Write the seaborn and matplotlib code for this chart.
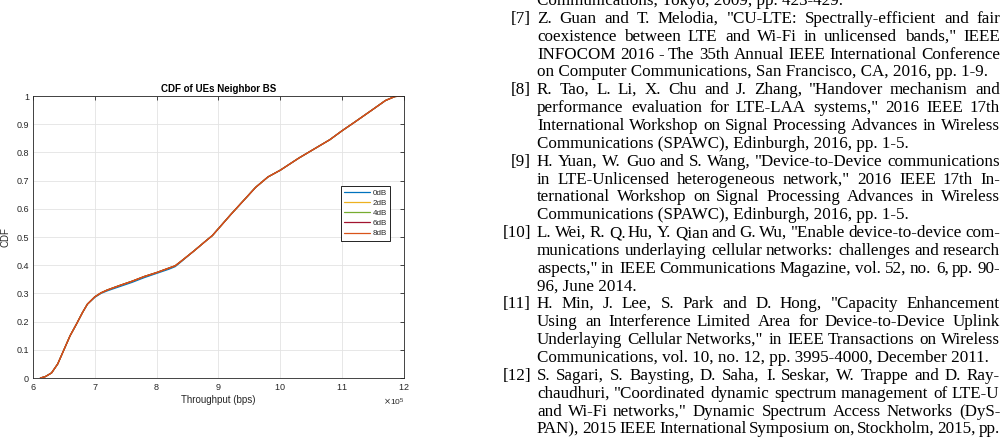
import matplotlib
matplotlib.use("Agg")
import matplotlib.pyplot as plt
import seaborn as sns
import pandas as pd

# ---------------- data ----------------
series_names = ["0dB", "2dB", "4dB", "6dB", "8dB"]
throughput_bps = [612000, 620000, 630000, 640000, 650000, 660000, 670000, 680000,
                  688000, 700000, 710000, 720000, 740000, 760000, 780000, 800000,
                  820000, 830000, 840000, 860000, 880000, 890000, 900000, 920000,
                  940000, 960000, 980000, 1000000, 1030000, 1050000, 1080000,
                  1100000, 1120000, 1150000, 1170000, 1185000, 1195000]
cdf_0dB = [0.0, 0.005, 0.018, 0.05, 0.10, 0.15, 0.19, 0.232, 0.262, 0.286, 0.300, 0.309,
           0.324, 0.339, 0.356, 0.371, 0.386, 0.395, 0.413, 0.45, 0.487, 0.505, 0.53, 0.58,
           0.628, 0.676, 0.713, 0.737, 0.78, 0.806, 0.845, 0.877, 0.907, 0.953, 0.984, 0.998, 1.0]
cdf_2dB = [0.0, 0.005, 0.018, 0.05, 0.10, 0.15, 0.19, 0.232, 0.262, 0.288, 0.302, 0.312,
           0.328, 0.343, 0.360, 0.374, 0.390, 0.398, 0.415, 0.45, 0.487, 0.505, 0.53, 0.58,
           0.628, 0.676, 0.713, 0.737, 0.78, 0.806, 0.845, 0.877, 0.907, 0.953, 0.984, 0.998, 1.0]
cdf_4dB = [0.0, 0.005, 0.018, 0.05, 0.10, 0.15, 0.19, 0.232, 0.262, 0.288, 0.302, 0.312,
           0.328, 0.343, 0.360, 0.374, 0.390, 0.398, 0.415, 0.45, 0.487, 0.505, 0.53, 0.58,
           0.628, 0.676, 0.713, 0.737, 0.78, 0.806, 0.845, 0.877, 0.907, 0.953, 0.984, 0.998, 1.0]
cdf_6dB = [0.0, 0.005, 0.018, 0.05, 0.10, 0.15, 0.19, 0.232, 0.262, 0.288, 0.302, 0.312,
           0.328, 0.343, 0.360, 0.374, 0.390, 0.398, 0.415, 0.45, 0.487, 0.505, 0.53, 0.58,
           0.628, 0.676, 0.713, 0.737, 0.78, 0.806, 0.845, 0.877, 0.907, 0.953, 0.984, 0.998, 1.0]
cdf_8dB = [0.0, 0.005, 0.018, 0.05, 0.10, 0.15, 0.19, 0.232, 0.262, 0.288, 0.302, 0.312,
           0.328, 0.343, 0.360, 0.374, 0.390, 0.398, 0.415, 0.45, 0.487, 0.505, 0.53, 0.58,
           0.628, 0.676, 0.713, 0.737, 0.78, 0.806, 0.845, 0.877, 0.907, 0.953, 0.984, 0.998, 1.0]
x_ticks = [6, 7, 8, 9, 10, 11, 12]
y_ticks = [0, 0.1, 0.2, 0.3, 0.4, 0.5, 0.6, 0.7, 0.8, 0.9, 1]
y_tick_labels = ["0", "0.1", "0.2", "0.3", "0.4", "0.5", "0.6", "0.7", "0.8", "0.9", "1"]
title_text = "CDF of UEs Neighbor BS"
x_label = "Throughput (bps)"
y_label = "CDF"

ref_top_line = "Communications, Tokyo, 2009, pp. 423-429."
ref_labels = ["[7]", "[8]", "[9]", "[10]", "[11]", "[12]"]
ref_lines = [
    ["Z. Guan and T. Melodia, \"CU-LTE: Spectrally-efficient and fair",
     "coexistence between LTE and Wi-Fi in unlicensed bands,\" IEEE",
     "INFOCOM 2016 - The 35th Annual IEEE International Conference",
     "on Computer Communications, San Francisco, CA, 2016, pp. 1-9."],
    ["R. Tao, L. Li, X. Chu and J. Zhang, \"Handover mechanism and",
     "performance evaluation for LTE-LAA systems,\" 2016 IEEE 17th",
     "International Workshop on Signal Processing Advances in Wireless",
     "Communications (SPAWC), Edinburgh, 2016, pp. 1-5."],
    ["H. Yuan, W. Guo and S. Wang, \"Device-to-Device communications",
     "in LTE-Unlicensed heterogeneous network,\" 2016 IEEE 17th In-",
     "ternational Workshop on Signal Processing Advances in Wireless",
     "Communications (SPAWC), Edinburgh, 2016, pp. 1-5."],
    ["L. Wei, R. Q. Hu, Y. Qian and G. Wu, \"Enable device-to-device com-",
     "munications underlaying cellular networks: challenges and research",
     "aspects,\" in IEEE Communications Magazine, vol. 52, no. 6, pp. 90-",
     "96, June 2014."],
    ["H. Min, J. Lee, S. Park and D. Hong, \"Capacity Enhancement",
     "Using an Interference Limited Area for Device-to-Device Uplink",
     "Underlaying Cellular Networks,\" in IEEE Transactions on Wireless",
     "Communications, vol. 10, no. 12, pp. 3995-4000, December 2011."],
    ["S. Sagari, S. Baysting, D. Saha, I. Seskar, W. Trappe and D. Ray-",
     "chaudhuri, \"Coordinated dynamic spectrum management of LTE-U",
     "and Wi-Fi networks,\" Dynamic Spectrum Access Networks (DyS-",
     "PAN), 2015 IEEE International Symposium on, Stockholm, 2015, pp."],
]
ref_last_line_flags = [True, True, True, True, True, False]

# ---------------- styles ----------------
palette = {"0dB": "#0072BD", "2dB": "#EDB120", "4dB": "#77AC30",
           "6dB": "#A2142F", "8dB": "#D95319"}

sns.set_theme(style="white")
plt.rcParams["font.family"] = ["Liberation Sans", "DejaVu Sans"]

W, H = 1007, 440
fig = plt.figure(figsize=(W / 100, H / 100), dpi=100)

ax_l, ax_r, ax_t, ax_b = 33, 404, 96, 378
ax = fig.add_axes([ax_l / W, 1 - ax_b / H, (ax_r - ax_l) / W, (ax_b - ax_t) / H])

df = pd.concat([
    pd.DataFrame({"Throughput": throughput_bps, "CDF": vals, "Series": name})
    for name, vals in zip(series_names, [cdf_0dB, cdf_2dB, cdf_4dB, cdf_6dB, cdf_8dB])
], ignore_index=True)

sns.lineplot(data=df, x="Throughput", y="CDF", hue="Series", hue_order=series_names,
             palette=palette, estimator=None, sort=False, linewidth=0.9, ax=ax)

dark = "#262626"
ax.set_xlim(600000, 1200000)
ax.set_ylim(0, 1)
ax.set_xticks([v * 100000 for v in x_ticks])
ax.set_yticks(y_ticks)
ax.set_yticklabels(y_tick_labels)
ax.ticklabel_format(axis="x", style="sci", scilimits=(5, 5), useMathText=True)
ax.xaxis.get_offset_text().set_fontsize(6)
ax.xaxis.get_offset_text().set_color(dark)
ax.grid(True, color="#e3e3e3", linewidth=0.6)
ax.set_axisbelow(True)
for sp in ax.spines.values():
    sp.set_visible(True)
    sp.set_color(dark)
    sp.set_linewidth(0.6)
ax.tick_params(axis="both", which="both", direction="in", length=3, width=0.6,
               colors=dark, labelsize=6.5, top=True, right=True, pad=3)
ax.set_title(title_text, fontsize=7, fontweight="bold", color="black", pad=3)
ax.set_xlabel(x_label, fontsize=7, color=dark, labelpad=2)
ax.set_ylabel(y_label, fontsize=7, color=dark, labelpad=4)

leg = ax.legend(loc="upper left", bbox_to_anchor=(0.829, 0.680), fontsize=5.8,
                frameon=True, fancybox=False, edgecolor="black", framealpha=1,
                handlelength=3.3, handletextpad=0.3, borderpad=0.4,
                labelspacing=0.3, borderaxespad=0)
leg.get_frame().set_linewidth(0.6)
for line in leg.get_lines():
    line.set_linewidth(0.9)

# ---------------- reference text column ----------------
serif = ["Liberation Serif", "DejaVu Serif"]
renderer = fig.canvas.get_renderer()


def measure(s, size):
    t = fig.text(0, 0, s, fontsize=size, family=serif)
    w = t.get_window_extent(renderer).width
    t.remove()
    return w

# calibrate font size on a tightly set line of the column
fs = 10.0 * 458.0 / measure("International Workshop on Signal Processing Advances in Wireless", 10.0)

text_left, text_right = 537, 1000
label_right = 531
base0, spacing = 5.0, 17.85
min_gap = 2.3


def draw_line(s, y_px, justify):
    y = 1 - round(y_px) / H
    if not justify:
        fig.text(text_left / W, y, s, fontsize=fs, family=serif, color="black",
                 ha="left", va="baseline")
        return
    words = s.split(" ")
    size = fs
    widths = [measure(w, size) for w in words]
    avail = text_right - text_left
    gap = (avail - sum(widths)) / (len(words) - 1)
    if gap < min_gap:
        size = fs * (avail - min_gap * (len(words) - 1)) / sum(widths)
        widths = [measure(w, size) for w in words]
        gap = (avail - sum(widths)) / (len(words) - 1)
    x = text_left
    for w, wd in zip(words, widths):
        fig.text(round(x) / W, y, w, fontsize=size, family=serif, color="black",
                 ha="left", va="baseline")
        x += wd + gap


draw_line(ref_top_line, base0, False)
i = 1
for lab, lines, last_flag in zip(ref_labels, ref_lines, ref_last_line_flags):
    fig.text(label_right / W, 1 - round(base0 + spacing * i) / H, lab, fontsize=fs,
             family=serif, color="black", ha="right", va="baseline")
    for k, s in enumerate(lines):
        is_last = last_flag and k == len(lines) - 1
        draw_line(s, base0 + spacing * i, not is_last)
        i += 1

fig.savefig("out.png", dpi=100)
